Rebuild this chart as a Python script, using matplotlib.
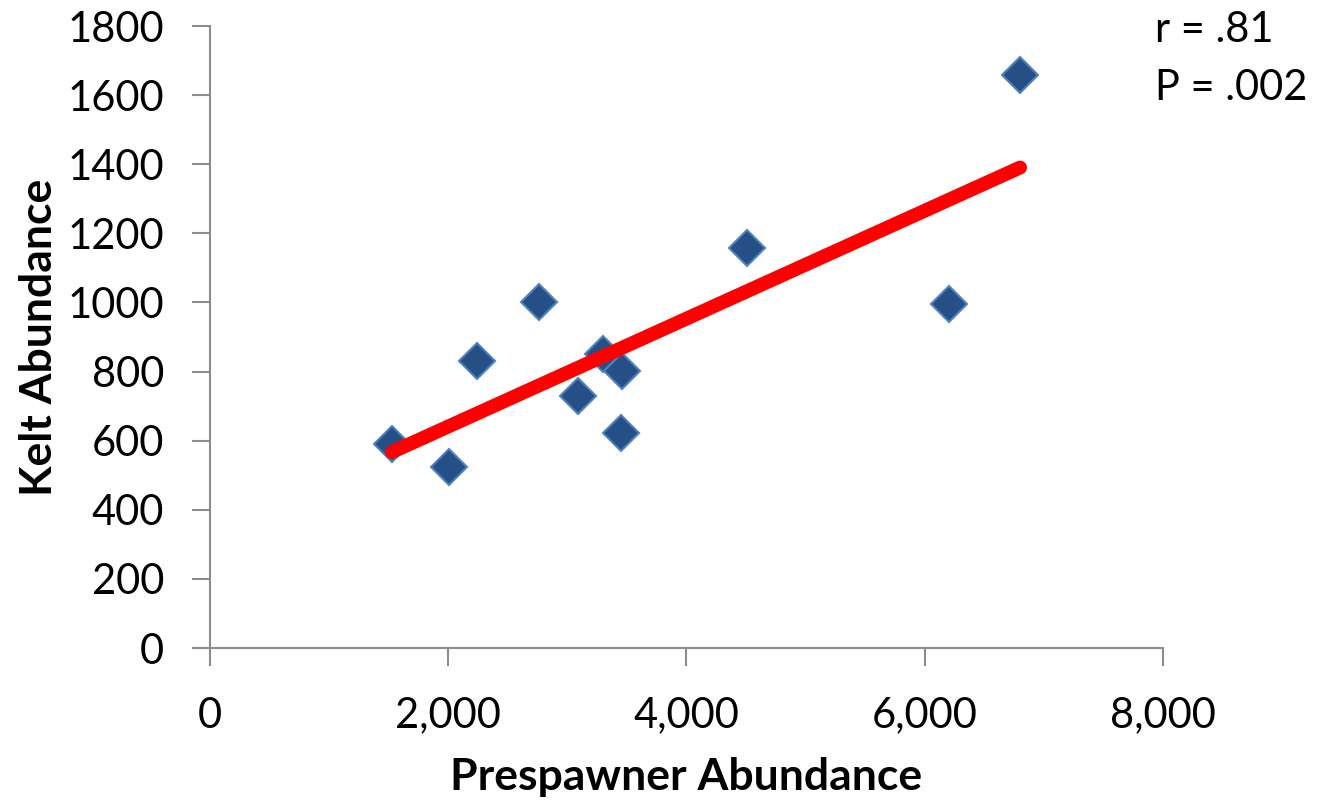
from matplotlib import pyplot as plt
from matplotlib.ticker import FuncFormatter
import numpy as np

plt.rcParams['font.family'] = ['Lato', 'DejaVu Sans']

# prespawner vs kelt abundance
prespawners = [1528, 2007, 2242, 2762, 3090, 3300, 3459, 3451, 4509, 6205, 6801]
kelts = [590, 524, 830, 1001, 729, 851, 801, 622, 1157, 995, 1658]

x = np.array(prespawners)
y = np.array(kelts)

fig = plt.figure(figsize=(13.2, 8), dpi=100)
ax = fig.add_axes([0.159, 0.19, 0.722, 0.7775])

# least squares trend line across the data range
slope, icpt = np.polyfit(x, y, 1)
xs = np.array([x.min(), x.max()])
ax.plot(xs, slope * xs + icpt, color='#FF0000', lw=10, solid_capstyle='round', zorder=3)

ax.plot(x, y, 'D', ms=18, mfc='#264F86', mec='#4F81BD', mew=1.5, zorder=2)

ax.set_xlim(0, 8000)
ax.set_ylim(0, 1800)
ax.set_xticks(range(0, 8001, 2000))
ax.set_yticks(range(0, 1801, 200))
ax.xaxis.set_major_formatter(FuncFormatter(lambda v, p: f'{int(v):,}'))

for side in ['top', 'right']:
    ax.spines[side].set_visible(False)
for side in ['left', 'bottom']:
    ax.spines[side].set_color('#8C8C8C')
    ax.spines[side].set_linewidth(1.5)

ax.tick_params(axis='both', direction='out', length=13, width=1.5, color='#8C8C8C',
               labelsize=30)
ax.tick_params(axis='x', pad=22)
ax.tick_params(axis='y', pad=20)

ax.set_xlabel('Prespawner Abundance', fontsize=32, fontweight='bold', labelpad=16)
ax.set_ylabel('Kelt Abundance', fontsize=32, fontweight='bold', labelpad=6)

fig.text(0.875, 0.962, 'r = .81', fontsize=30, va='center')
fig.text(0.875, 0.89, 'P = .002', fontsize=30, va='center')

fig.savefig('out.png', dpi=100)
